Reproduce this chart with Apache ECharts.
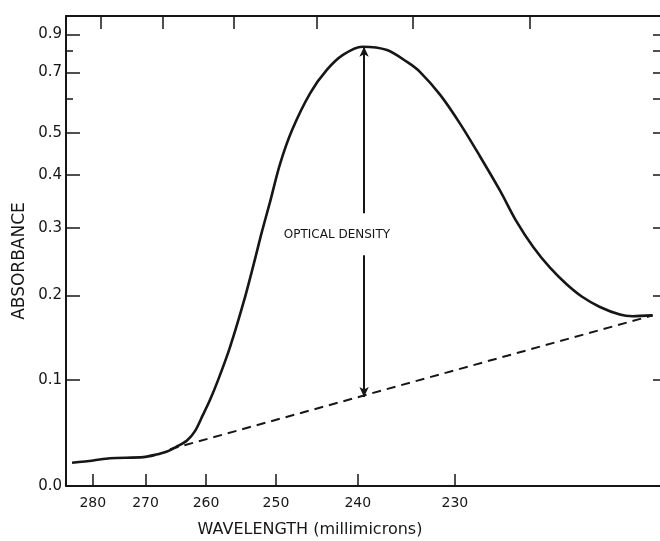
<!DOCTYPE html>
<html>
<head>
<meta charset="utf-8">
<script src="https://cdn.jsdelivr.net/npm/echarts@6.0.0/dist/echarts.min.js"></script>
<style>
  html, body { margin: 0; padding: 0; background: #fff; }
  #main { width: 660px; height: 541px; }
</style>
</head>
<body>
<div id="main"></div>
<script>
// spectrum (millimicrons, absorbance)
var wavelength = [284.3, 279.9, 276.6, 270.4, 268.3, 266.3, 264.5, 263.0, 261.7, 260.5,
    259.4, 258.2, 256.4, 254.2, 252.8, 251.9, 250.8, 249.5, 247.9, 245.6,
    243.6, 241.7, 239.5, 236.8, 234.7, 233.4, 231.4, 229.5, 227.7, 225.9,
    224.5, 223.1, 221.7, 220.4, 219.2, 217.9, 216.4, 215.5, 214.1];
var absorbance = [0.020, 0.022, 0.024, 0.025, 0.027, 0.030, 0.035, 0.040, 0.049, 0.064,
    0.079, 0.099, 0.136, 0.199, 0.253, 0.294, 0.346, 0.422, 0.507, 0.621,
    0.710, 0.780, 0.824, 0.806, 0.746, 0.702, 0.614, 0.524, 0.442, 0.368,
    0.312, 0.270, 0.238, 0.215, 0.198, 0.185, 0.175, 0.173, 0.174];

// dashed base line
var baseWavelength = [265.8, 214.1];
var baseAbsorbance = [0.032, 0.174];

// optical density arrow (top tip, gap top, gap bottom, bottom tip)
var arrowWavelength = 239.3;
var arrowAbsorbance = [0.824, 0.326, 0.257, 0.082];
var odLabel = { wavelength: 242.4, absorbance: 0.289, text: 'OPTICAL DENSITY' };

// ticks
var bottomTicks = [280, 270, 260, 250, 240, 230];
var topTicks = [278.4, 267.0, 255.8, 244.8, 234.1, 223.4];
var yLabelTicks = [0.0, 0.1, 0.2, 0.3, 0.4, 0.5, 0.7, 0.9];
var yMinorTicks = [0.6, 0.8];
var yRightTicks = [0.1, 0.2, 0.3, 0.4, 0.5, 0.6, 0.7, 0.8, 0.9];

// prism dispersion scale on x, transmittance-linear scale on y
function toU(l) { return 1e4 / (l - 122.3); }
function fromU(u) { return 122.3 + 1e4 / u; }
function toV(a) { return Math.pow(10, -a); }
function fromV(v) { return Math.abs(-Math.log10(v)); }

var ink = '#161616';
var font = 'DejaVu Sans';

var curve = wavelength.map(function(l, i) {
    return [toU(l), toV(absorbance[i])];
});
var base = baseWavelength.map(function(l, i) {
    return [toU(l), toV(baseAbsorbance[i])];
});
var ax = toU(arrowWavelength);

var chart = echarts.init(document.getElementById('main'));

var xCommon = {
    type: 'value',
    min: toU(285.6),
    max: toU(213.6),
    splitLine: { show: false },
    axisLine: { lineStyle: { color: ink, width: 2 } }
};

var option = {
    animation: false,
    backgroundColor: '#fff',
    grid: { left: 66, right: 0, top: 16, bottom: 55 },
    xAxis: [
        Object.assign({}, xCommon, {
            position: 'bottom',
            axisTick: {
                inside: true, length: 12,
                customValues: bottomTicks.map(toU),
                lineStyle: { color: ink, width: 1.5 }
            },
            axisLabel: {
                customValues: bottomTicks.map(toU),
                formatter: function(u) { return Math.round(fromU(u)); },
                color: ink, fontSize: 14, fontFamily: font, margin: 10
            }
        }),
        Object.assign({}, xCommon, {
            position: 'top',
            axisTick: {
                inside: true, length: 13,
                customValues: topTicks.map(toU),
                lineStyle: { color: ink, width: 1.5 }
            },
            axisLabel: { show: false }
        })
    ],
    yAxis: [
        {
            type: 'value', position: 'left', inverse: true,
            min: toV(1.043), max: 1,
            splitLine: { show: false },
            axisLine: { lineStyle: { color: ink, width: 2 } },
            axisTick: {
                inside: true, length: 14,
                customValues: yLabelTicks.filter(function(a) { return a > 0; }).map(toV),
                lineStyle: { color: ink, width: 1.5 }
            },
            axisLabel: {
                customValues: yLabelTicks.map(toV),
                formatter: function(v) { return fromV(v).toFixed(1); },
                color: ink, fontSize: 15, fontFamily: font, margin: 4
            }
        },
        {
            type: 'value', position: 'left', inverse: true,
            min: toV(1.043), max: 1,
            splitLine: { show: false },
            axisLine: { show: false },
            axisTick: {
                inside: true, length: 7,
                customValues: yMinorTicks.map(toV),
                lineStyle: { color: ink, width: 1.5 }
            },
            axisLabel: { show: false }
        },
        {
            type: 'value', position: 'right', inverse: true,
            min: toV(1.043), max: 1,
            splitLine: { show: false },
            axisLine: { show: false },
            axisTick: {
                inside: true, length: 7,
                customValues: yRightTicks.map(toV),
                lineStyle: { color: ink, width: 1.5 }
            },
            axisLabel: { show: false }
        }
    ],
    series: [
        {
            type: 'line',
            data: curve,
            smooth: 0.3,
            symbol: 'none',
            lineStyle: { color: ink, width: 2.6 }
        },
        {
            type: 'line',
            data: base,
            symbol: 'none',
            lineStyle: { color: ink, width: 2, type: [9, 6] },
            markLine: {
                silent: true,
                symbolSize: [7, 10],
                label: { show: false },
                lineStyle: { color: ink, width: 2, type: 'solid' },
                data: [
                    [
                        { coord: [ax, toV(arrowAbsorbance[0])], symbol: 'arrow' },
                        { coord: [ax, toV(arrowAbsorbance[1])], symbol: 'none' }
                    ],
                    [
                        { coord: [ax, toV(arrowAbsorbance[2])], symbol: 'none' },
                        { coord: [ax, toV(arrowAbsorbance[3])], symbol: 'arrow' }
                    ]
                ]
            },
            markPoint: {
                silent: true,
                symbolSize: 0,
                label: {
                    show: true, position: 'inside',
                    formatter: odLabel.text,
                    color: ink, fontSize: 12, fontFamily: font
                },
                data: [{ coord: [toU(odLabel.wavelength), toV(odLabel.absorbance)] }]
            }
        }
    ],
    graphic: [
        {
            type: 'text', x: 20, y: 261, rotation: Math.PI / 2,
            style: {
                text: 'ABSORBANCE', fill: ink,
                font: '17px "DejaVu Sans"', align: 'center', verticalAlign: 'middle'
            }
        },
        {
            type: 'text', x: 310, y: 530,
            style: {
                text: 'WAVELENGTH (millimicrons)', fill: ink,
                font: '16px "DejaVu Sans"', align: 'center', verticalAlign: 'middle'
            }
        }
    ]
};

chart.setOption(option);
window.addEventListener('resize', function() {
    chart.resize();
});
</script>
</body>
</html>
